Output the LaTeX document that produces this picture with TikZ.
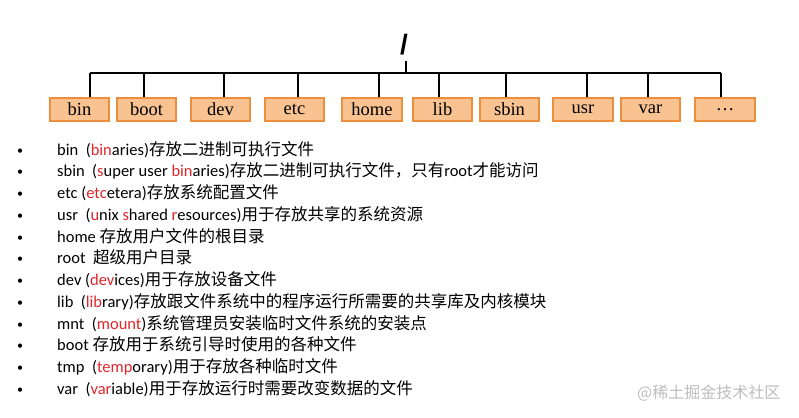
\documentclass[tikz,border=0pt]{standalone}
\usepackage{fontspec}
\setmainfont{Carlito}
\newfontfamily\cjk{Noto Sans CJK SC}
\newfontfamily\boxfont{Liberation Serif}
\newfontfamily\slashfont{Liberation Sans}
\definecolor{boxfill}{HTML}{F9C291}
\definecolor{boxdraw}{HTML}{EC8E3C}
\definecolor{redtxt}{HTML}{E0262B}
\definecolor{wmark}{HTML}{BDBDBD}
\newcommand\zh[1]{{\cjk #1}}
\newcommand\rd[1]{\textcolor{redtxt}{#1}}
\begin{document}
\begin{tikzpicture}[x=1pt,y=-1pt,
  dirbox/.style={draw=boxdraw, fill=boxfill, line width=1.6pt, minimum width=59.5pt, minimum height=23.5pt, inner sep=0pt, font=\boxfont\fontsize{18.5}{20}\selectfont},
  tree/.style={line width=1.8pt, black},
  item/.style={anchor=base west, inner sep=0pt, font=\fontsize{16.5}{18}\selectfont},
  bul/.style={anchor=base, inner sep=0pt, font=\fontsize{12}{14}\selectfont}]
\useasboundingbox (0,0) rectangle (799,417);

% root
\node[inner sep=0pt, font=\slashfont\bfseries\fontsize{28}{30}\selectfont] (root) at (404,45) {/};
\coordinate (busL) at (90,72.7);
\coordinate (busR) at (721,72.7);
\coordinate (rootbot) at (406,61);

% directory boxes
\node[dirbox] (bin)  at (79.5,109.5) {bin};
\node[dirbox] (boot) at (146.5,109.5) {boot};
\node[dirbox] (dev)  at (220.5,109.5) {dev};
\node[dirbox] (etc)  at (294.5,109.5) {etc};
\node[dirbox] (home) at (372,109.5) {home};
\node[dirbox] (lib)  at (442.5,109.5) {lib};
\node[dirbox] (sbin) at (509.5,109.5) {sbin};
\node[dirbox] (usr)  at (583,109.5) {usr};
\node[dirbox] (var)  at (650.5,109.5) {var};
\node[dirbox] (more) at (725,109.5) {…};

% tree lines
\draw[tree] (busL) -- (busR);
\draw[tree] (rootbot) -- (rootbot |- busL);
\foreach \n/\dx in {bin/10.5, boot/-2.5, dev/3.5, etc/3.5, home/7, lib/-3.5, sbin/-3.5, usr/4, var/-2.5, more/-4}{
  \draw[tree] ([xshift=\dx pt]\n.north) -- ([xshift=\dx pt]\n.north |- busL);
}

% bullet list
\foreach \k in {0,...,11}{
  \node[bul] (b\k) at (20,154+21.75*\k) {•};
}
\node[item] (l0)  at (57,155+21.75*0)  {bin\ \ (\rd{bin}aries)\zh{存放二进制可执行文件}};
\node[item] (l1)  at (57,155+21.75*1)  {sbin\ \ (\rd{s}uper user \rd{bin}aries)\zh{存放二进制可执行文件，只有}root\zh{才能访问}};
\node[item] (l2)  at (57,155+21.75*2)  {etc (\rd{etc}etera)\zh{存放系统配置文件}};
\node[item] (l3)  at (57,155+21.75*3)  {usr\ \ (\rd{u}nix \rd{s}hared \rd{r}esources)\zh{用于存放共享的系统资源}};
\node[item] (l4)  at (57,155+21.75*4)  {home \zh{存放用户文件的根目录}};
\node[item] (l5)  at (57,155+21.75*5)  {root\ \ \zh{超级用户目录}};
\node[item] (l6)  at (57,155+21.75*6)  {dev (\rd{dev}ices)\zh{用于存放设备文件}};
\node[item] (l7)  at (57,155+21.75*7)  {lib\ \ (\rd{lib}rary)\zh{存放跟文件系统中的程序运行所需要的共享库及内核模块}};
\node[item] (l8)  at (57,155+21.75*8)  {mnt\ \ (\rd{mount})\zh{系统管理员安装临时文件系统的安装点}};
\node[item] (l9)  at (57,155+21.75*9)  {boot \zh{存放用于系统引导时使用的各种文件}};
\node[item] (l10) at (57,155+21.75*10) {tmp\ \ (\rd{temp}orary)\zh{用于存放各种临时文件}};
\node[item] (l11) at (57,155+21.75*11) {var\ \ (\rd{var}iable)\zh{用于存放运行时需要改变数据的文件}};

% watermark
\node[anchor=base west, inner sep=0pt, text=wmark, font=\cjk\fontsize{16}{18}\selectfont] (wm) at (637,398) {@稀土掘金技术社区};
\end{tikzpicture}
\end{document}
